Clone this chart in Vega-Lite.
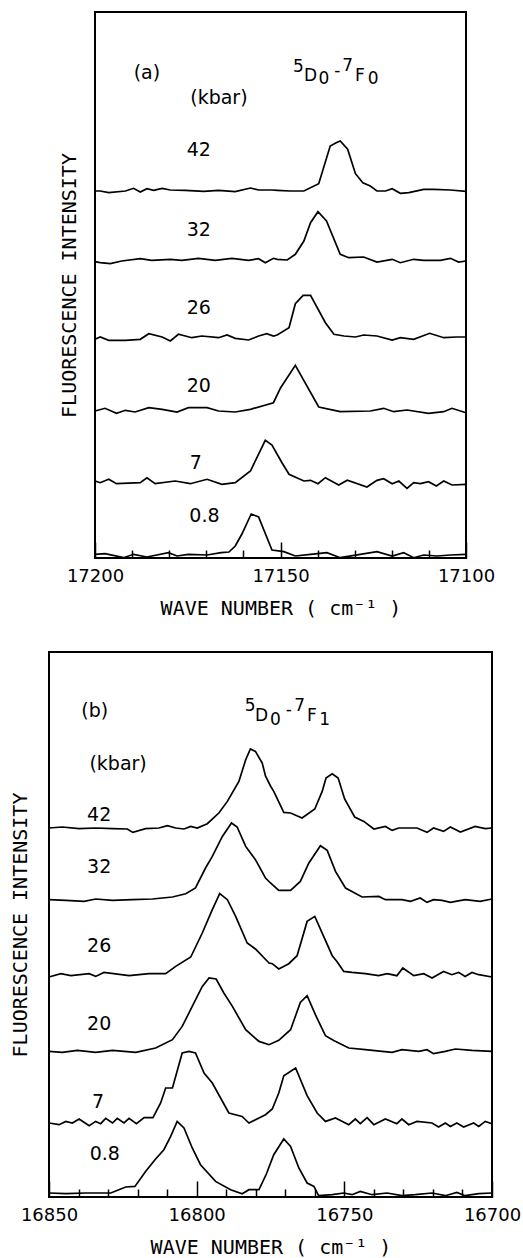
{
"$schema": "https://vega.github.io/schema/vega-lite/v6.json",
"padding": {"left": 0, "top": 11, "right": 0, "bottom": 0},
"background": "white",
"config": {
  "view": {"stroke": "black", "strokeWidth": 2},
  "axis": {"grid": false, "domain": false, "labelColor": "black", "titleColor": "black", "tickColor": "black", "tickWidth": 1.5, "labelFont": "DejaVu Sans", "labelFontSize": 18, "titleFont": "DejaVu Sans Mono", "titleFontSize": 20, "titleFontWeight": "normal"}
},
"datasets": {
"a": [
{"p":"42","w":17200,"v":367},{"p":"42","w":17198.6,"v":367},{"p":"42","w":17196.3,"v":365.3},{"p":"42","w":17191.8,"v":367},{"p":"42","w":17189.6,"v":369.7},{"p":"42","w":17187.8,"v":366},{"p":"42","w":17186,"v":369.3},{"p":"42","w":17184.2,"v":367.7},{"p":"42","w":17181.9,"v":369.7},{"p":"42","w":17179.7,"v":368},{"p":"42","w":17175.7,"v":367.7},{"p":"42","w":17170.7,"v":366.7},{"p":"42","w":17166.7,"v":367.7},{"p":"42","w":17162.2,"v":366.3},{"p":"42","w":17158.1,"v":370},{"p":"42","w":17155.9,"v":368},{"p":"42","w":17152.3,"v":368},{"p":"42","w":17150.9,"v":367.7},{"p":"42","w":17147.4,"v":367},{"p":"42","w":17143.7,"v":367},{"p":"42","w":17139.7,"v":374.3},{"p":"42","w":17136.6,"v":412},{"p":"42","w":17135,"v":415.3},{"p":"42","w":17133.9,"v":417},{"p":"42","w":17131.9,"v":408.7},{"p":"42","w":17129.8,"v":384.3},{"p":"42","w":17127.8,"v":375.3},{"p":"42","w":17125.8,"v":372},{"p":"42","w":17124,"v":367},{"p":"42","w":17121.7,"v":367},{"p":"42","w":17119.9,"v":369.3},{"p":"42","w":17117.7,"v":364.7},{"p":"42","w":17115.4,"v":365.3},{"p":"42","w":17111.4,"v":368.7},{"p":"42","w":17108.7,"v":368.7},{"p":"42","w":17104.2,"v":368},{"p":"42","w":17100,"v":366.7},
{"p":"32","w":17200,"v":296.3},{"p":"32","w":17198.6,"v":295.3},{"p":"32","w":17195.9,"v":294.3},{"p":"32","w":17192.8,"v":297},{"p":"32","w":17187.8,"v":299.3},{"p":"32","w":17184.7,"v":297.7},{"p":"32","w":17179.7,"v":298.7},{"p":"32","w":17176.6,"v":297.7},{"p":"32","w":17172.1,"v":299.7},{"p":"32","w":17167.6,"v":297.7},{"p":"32","w":17163.1,"v":299.7},{"p":"32","w":17158.6,"v":297.7},{"p":"32","w":17155.9,"v":299.3},{"p":"32","w":17154.1,"v":295.3},{"p":"32","w":17151.9,"v":299.7},{"p":"32","w":17150.9,"v":298.7},{"p":"32","w":17148.2,"v":298},{"p":"32","w":17146,"v":303.7},{"p":"32","w":17143.7,"v":317},{"p":"32","w":17141.9,"v":335.3},{"p":"32","w":17139.9,"v":346.3},{"p":"32","w":17137.6,"v":337},{"p":"32","w":17133.9,"v":303.7},{"p":"32","w":17131.6,"v":300.3},{"p":"32","w":17127.6,"v":301},{"p":"32","w":17124,"v":296},{"p":"32","w":17119.9,"v":298.7},{"p":"32","w":17117.7,"v":295.3},{"p":"32","w":17114.1,"v":298.7},{"p":"32","w":17111.4,"v":297.7},{"p":"32","w":17106.9,"v":297.7},{"p":"32","w":17104.2,"v":299.7},{"p":"32","w":17102,"v":296},{"p":"32","w":17100,"v":297},
{"p":"26","w":17200,"v":218.7},{"p":"26","w":17198.6,"v":221},{"p":"26","w":17196.3,"v":217.7},{"p":"26","w":17191.8,"v":217.7},{"p":"26","w":17187.8,"v":218.7},{"p":"26","w":17185.5,"v":224.3},{"p":"26","w":17181.9,"v":221},{"p":"26","w":17179.7,"v":217},{"p":"26","w":17177.5,"v":223.7},{"p":"26","w":17173.9,"v":220.3},{"p":"26","w":17171.2,"v":222},{"p":"26","w":17166.7,"v":220.3},{"p":"26","w":17164.4,"v":223},{"p":"26","w":17162.2,"v":219.7},{"p":"26","w":17158.6,"v":218},{"p":"26","w":17155.9,"v":222},{"p":"26","w":17153.7,"v":224.3},{"p":"26","w":17151.9,"v":222},{"p":"26","w":17150.9,"v":223},{"p":"26","w":17147.7,"v":230.3},{"p":"26","w":17146,"v":254.3},{"p":"26","w":17143.9,"v":262.7},{"p":"26","w":17141.9,"v":262.7},{"p":"26","w":17137.9,"v":235.3},{"p":"26","w":17135.6,"v":223.7},{"p":"26","w":17132.9,"v":222},{"p":"26","w":17129.8,"v":221},{"p":"26","w":17127.6,"v":223},{"p":"26","w":17124,"v":222},{"p":"26","w":17119.9,"v":218},{"p":"26","w":17117.7,"v":220.3},{"p":"26","w":17114.1,"v":218.7},{"p":"26","w":17109.8,"v":224.7},{"p":"26","w":17106,"v":220.3},{"p":"26","w":17102.4,"v":221},{"p":"26","w":17100,"v":221},
{"p":"20","w":17200,"v":147},{"p":"20","w":17197.3,"v":149.7},{"p":"20","w":17194.2,"v":144.7},{"p":"20","w":17191.8,"v":147.7},{"p":"20","w":17189.2,"v":146},{"p":"20","w":17185.5,"v":150.3},{"p":"20","w":17181.9,"v":148.7},{"p":"20","w":17177.9,"v":146},{"p":"20","w":17174.8,"v":150.3},{"p":"20","w":17169.8,"v":150.3},{"p":"20","w":17166.7,"v":147},{"p":"20","w":17162.2,"v":146},{"p":"20","w":17158.1,"v":148.7},{"p":"20","w":17151.9,"v":155.3},{"p":"20","w":17150,"v":170},{"p":"20","w":17146,"v":192.7},{"p":"20","w":17139.7,"v":151},{"p":"20","w":17133.9,"v":146.3},{"p":"20","w":17125.8,"v":147},{"p":"20","w":17122.2,"v":149.7},{"p":"20","w":17119.5,"v":146.3},{"p":"20","w":17115.9,"v":148},{"p":"20","w":17110.1,"v":144.7},{"p":"20","w":17106,"v":146.3},{"p":"20","w":17103.8,"v":149.7},{"p":"20","w":17100,"v":145.3},
{"p":"7","w":17200,"v":77},{"p":"7","w":17198.6,"v":75.3},{"p":"7","w":17196.3,"v":78.7},{"p":"7","w":17194.2,"v":74.3},{"p":"7","w":17187.8,"v":75.3},{"p":"7","w":17186,"v":80.3},{"p":"7","w":17183.8,"v":74.3},{"p":"7","w":17178.4,"v":77},{"p":"7","w":17174.3,"v":74.3},{"p":"7","w":17169.8,"v":78.7},{"p":"7","w":17165.8,"v":73.7},{"p":"7","w":17162.2,"v":75.3},{"p":"7","w":17158.1,"v":87},{"p":"7","w":17154.1,"v":117.7},{"p":"7","w":17152.3,"v":113},{"p":"7","w":17149.6,"v":95.3},{"p":"7","w":17147.7,"v":83.7},{"p":"7","w":17143.7,"v":77},{"p":"7","w":17141.9,"v":77.7},{"p":"7","w":17139.9,"v":74.3},{"p":"7","w":17137.9,"v":80.3},{"p":"7","w":17134.3,"v":73},{"p":"7","w":17132,"v":77.7},{"p":"7","w":17126.7,"v":71},{"p":"7","w":17124,"v":77.7},{"p":"7","w":17122.2,"v":79.3},{"p":"7","w":17119.9,"v":74.3},{"p":"7","w":17118.1,"v":77},{"p":"7","w":17115.9,"v":69.7},{"p":"7","w":17114.1,"v":75.3},{"p":"7","w":17112.3,"v":74.3},{"p":"7","w":17110.1,"v":76.3},{"p":"7","w":17108,"v":72},{"p":"7","w":17106,"v":77},{"p":"7","w":17103.8,"v":73},{"p":"7","w":17100,"v":73.7},
{"p":"0.8","w":17200,"v":3.7},{"p":"0.8","w":17197.3,"v":4.3},{"p":"0.8","w":17192.3,"v":0.3},{"p":"0.8","w":17189.6,"v":3.7},{"p":"0.8","w":17186,"v":1},{"p":"0.8","w":17180.2,"v":5.3},{"p":"0.8","w":17177.9,"v":2},{"p":"0.8","w":17174.8,"v":3.7},{"p":"0.8","w":17169.8,"v":3},{"p":"0.8","w":17166,"v":5.3},{"p":"0.8","w":17163.9,"v":6},{"p":"0.8","w":17162.2,"v":12},{"p":"0.8","w":17160.4,"v":24},{"p":"0.8","w":17157.9,"v":44},{"p":"0.8","w":17155.9,"v":41},{"p":"0.8","w":17152.3,"v":8},{"p":"0.8","w":17149.1,"v":6.3},{"p":"0.8","w":17146,"v":2},{"p":"0.8","w":17141.9,"v":3.7},{"p":"0.8","w":17137.5,"v":5.3},{"p":"0.8","w":17133.9,"v":0.3},{"p":"0.8","w":17128.5,"v":3.7},{"p":"0.8","w":17124,"v":6.3},{"p":"0.8","w":17119.9,"v":2},{"p":"0.8","w":17116.8,"v":5.3},{"p":"0.8","w":17114.1,"v":0.3},{"p":"0.8","w":17111.4,"v":3},{"p":"0.8","w":17107.8,"v":2},{"p":"0.8","w":17104.2,"v":3},{"p":"0.8","w":17100,"v":3.7}
],
"b": [
{"p":"42","w":16850,"v":369},{"p":"42","w":16845.5,"v":370},{"p":"42","w":16839.8,"v":368.3},{"p":"42","w":16834.2,"v":369},{"p":"42","w":16828.5,"v":368.3},{"p":"42","w":16823.5,"v":368},{"p":"42","w":16821.6,"v":364.6},{"p":"42","w":16817.3,"v":368.3},{"p":"42","w":16812.8,"v":369},{"p":"42","w":16809.9,"v":371.3},{"p":"42","w":16807.1,"v":369},{"p":"42","w":16804.3,"v":368},{"p":"42","w":16802,"v":370.6},{"p":"42","w":16799.8,"v":369},{"p":"42","w":16796.4,"v":373.3},{"p":"42","w":16792.5,"v":384},{"p":"42","w":16789.6,"v":395.6},{"p":"42","w":16785.7,"v":415.6},{"p":"42","w":16783.4,"v":437.3},{"p":"42","w":16781.8,"v":448},{"p":"42","w":16780.1,"v":445.6},{"p":"42","w":16777.8,"v":434},{"p":"42","w":16776.7,"v":421},{"p":"42","w":16775,"v":411},{"p":"42","w":16773.9,"v":405.6},{"p":"42","w":16770.5,"v":384.6},{"p":"42","w":16768.2,"v":384},{"p":"42","w":16764.3,"v":379},{"p":"42","w":16760,"v":388},{"p":"42","w":16757.5,"v":405.6},{"p":"42","w":16756.2,"v":419},{"p":"42","w":16754.1,"v":423.3},{"p":"42","w":16752.1,"v":419},{"p":"42","w":16749.9,"v":398},{"p":"42","w":16746.5,"v":380},{"p":"42","w":16743.4,"v":375.6},{"p":"42","w":16740,"v":368},{"p":"42","w":16736.1,"v":370.6},{"p":"42","w":16733.8,"v":366.6},{"p":"42","w":16731.6,"v":369},{"p":"42","w":16725.4,"v":369},{"p":"42","w":16722,"v":364.6},{"p":"42","w":16719.8,"v":369},{"p":"42","w":16716.4,"v":365.6},{"p":"42","w":16714.1,"v":370},{"p":"42","w":16710.7,"v":365},{"p":"42","w":16705.7,"v":370.6},{"p":"42","w":16702.3,"v":368.3},{"p":"42","w":16700,"v":369},
{"p":"32","w":16850,"v":297.3},{"p":"32","w":16844.3,"v":296.6},{"p":"32","w":16838.1,"v":295.6},{"p":"32","w":16834.2,"v":298},{"p":"32","w":16828.5,"v":296.6},{"p":"32","w":16821.8,"v":297.3},{"p":"32","w":16815,"v":298},{"p":"32","w":16808.2,"v":300},{"p":"32","w":16803.7,"v":303.3},{"p":"32","w":16800.4,"v":309},{"p":"32","w":16797,"v":329},{"p":"32","w":16794.7,"v":340.6},{"p":"32","w":16791.3,"v":360.6},{"p":"32","w":16788.2,"v":374},{"p":"32","w":16786.3,"v":370},{"p":"32","w":16783.4,"v":350.6},{"p":"32","w":16780.1,"v":337.3},{"p":"32","w":16776.7,"v":319},{"p":"32","w":16775,"v":314},{"p":"32","w":16772.2,"v":306.6},{"p":"32","w":16768.2,"v":306.6},{"p":"32","w":16764.9,"v":315.6},{"p":"32","w":16762,"v":334},{"p":"32","w":16758.1,"v":351.3},{"p":"32","w":16755.8,"v":346.6},{"p":"32","w":16753,"v":325.6},{"p":"32","w":16749.6,"v":309},{"p":"32","w":16744,"v":300},{"p":"32","w":16738.3,"v":300.6},{"p":"32","w":16736.1,"v":297.3},{"p":"32","w":16730.5,"v":297.3},{"p":"32","w":16727.6,"v":295.6},{"p":"32","w":16724.3,"v":299},{"p":"32","w":16722,"v":294.6},{"p":"32","w":16719.8,"v":297.3},{"p":"32","w":16716.9,"v":296.6},{"p":"32","w":16714.1,"v":294.6},{"p":"32","w":16709.1,"v":297.3},{"p":"32","w":16704,"v":295.6},{"p":"32","w":16700,"v":298},
{"p":"26","w":16850,"v":220},{"p":"26","w":16846,"v":223.3},{"p":"26","w":16842.6,"v":221.3},{"p":"26","w":16836.4,"v":223.3},{"p":"26","w":16834.2,"v":220.6},{"p":"26","w":16831.4,"v":224.6},{"p":"26","w":16822.9,"v":221.3},{"p":"26","w":16816.1,"v":223.3},{"p":"26","w":16810.5,"v":223.3},{"p":"26","w":16807.1,"v":230.6},{"p":"26","w":16802,"v":240},{"p":"26","w":16798.1,"v":264},{"p":"26","w":16794.7,"v":287.3},{"p":"26","w":16792.2,"v":303.3},{"p":"26","w":16789.6,"v":297.3},{"p":"26","w":16786.8,"v":280.6},{"p":"26","w":16782.9,"v":254},{"p":"26","w":16780.1,"v":248},{"p":"26","w":16775.5,"v":234},{"p":"26","w":16774.4,"v":233.3},{"p":"26","w":16772.2,"v":228},{"p":"26","w":16768.8,"v":233.3},{"p":"26","w":16766,"v":241.3},{"p":"26","w":16762.6,"v":275.6},{"p":"26","w":16760,"v":280.6},{"p":"26","w":16757,"v":260.6},{"p":"26","w":16754.1,"v":241.3},{"p":"26","w":16752.5,"v":235.6},{"p":"26","w":16750.2,"v":225.6},{"p":"26","w":16747.4,"v":224.6},{"p":"26","w":16742.9,"v":223.3},{"p":"26","w":16738.4,"v":221.3},{"p":"26","w":16735.5,"v":223.3},{"p":"26","w":16732.2,"v":221.3},{"p":"26","w":16730.2,"v":229},{"p":"26","w":16726.5,"v":221.3},{"p":"26","w":16723.1,"v":223.3},{"p":"26","w":16720.3,"v":219},{"p":"26","w":16716.4,"v":225.6},{"p":"26","w":16713.6,"v":222.3},{"p":"26","w":16711.3,"v":224.6},{"p":"26","w":16709.1,"v":220.6},{"p":"26","w":16706.8,"v":224.6},{"p":"26","w":16704.5,"v":222.3},{"p":"26","w":16700,"v":220},
{"p":"20","w":16850,"v":145.6},{"p":"20","w":16845.5,"v":144.6},{"p":"20","w":16840.4,"v":146.6},{"p":"20","w":16834.2,"v":144.6},{"p":"20","w":16828.5,"v":146.6},{"p":"20","w":16820.6,"v":144.6},{"p":"20","w":16813.9,"v":149},{"p":"20","w":16808.2,"v":157.3},{"p":"20","w":16804.9,"v":170.6},{"p":"20","w":16801.5,"v":190.6},{"p":"20","w":16798.1,"v":210.6},{"p":"20","w":16795.8,"v":219},{"p":"20","w":16793.4,"v":218},{"p":"20","w":16790.8,"v":204},{"p":"20","w":16787.9,"v":190.6},{"p":"20","w":16783.4,"v":167.3},{"p":"20","w":16778.9,"v":155.6},{"p":"20","w":16775.5,"v":152.3},{"p":"20","w":16772.2,"v":156.6},{"p":"20","w":16768.2,"v":167.3},{"p":"20","w":16764.9,"v":194.6},{"p":"20","w":16762.6,"v":201.3},{"p":"20","w":16759.8,"v":182.3},{"p":"20","w":16756.4,"v":161.3},{"p":"20","w":16753.6,"v":156.6},{"p":"20","w":16748.5,"v":149},{"p":"20","w":16742.9,"v":147.3},{"p":"20","w":16737.2,"v":145.6},{"p":"20","w":16733.8,"v":144.6},{"p":"20","w":16730.5,"v":147.3},{"p":"20","w":16724.8,"v":145.6},{"p":"20","w":16722,"v":147.3},{"p":"20","w":16719.8,"v":143.3},{"p":"20","w":16715.8,"v":145.6},{"p":"20","w":16712.4,"v":148},{"p":"20","w":16706.8,"v":146.6},{"p":"20","w":16700,"v":145.6},
{"p":"7","w":16850,"v":74},{"p":"7","w":16846.6,"v":72.3},{"p":"7","w":16844.3,"v":75.6},{"p":"7","w":16842.1,"v":74},{"p":"7","w":16839.8,"v":78},{"p":"7","w":16836.4,"v":71.3},{"p":"7","w":16834.2,"v":75.6},{"p":"7","w":16832.5,"v":73.3},{"p":"7","w":16830.8,"v":78.6},{"p":"7","w":16828.5,"v":74},{"p":"7","w":16826.9,"v":78.6},{"p":"7","w":16824.6,"v":74},{"p":"7","w":16822.9,"v":78.6},{"p":"7","w":16820.4,"v":73.3},{"p":"7","w":16817.8,"v":79.3},{"p":"7","w":16814.8,"v":79.3},{"p":"7","w":16812.2,"v":94},{"p":"7","w":16810.5,"v":109},{"p":"7","w":16808.2,"v":109},{"p":"7","w":16804.9,"v":144},{"p":"7","w":16802.6,"v":145.6},{"p":"7","w":16800.4,"v":144},{"p":"7","w":16797.5,"v":124},{"p":"7","w":16794.7,"v":114},{"p":"7","w":16789.1,"v":84},{"p":"7","w":16784.6,"v":80.6},{"p":"7","w":16782.3,"v":74},{"p":"7","w":16778.9,"v":79},{"p":"7","w":16776.7,"v":82.3},{"p":"7","w":16774.4,"v":88},{"p":"7","w":16772.2,"v":104},{"p":"7","w":16770.5,"v":121.3},{"p":"7","w":16766.5,"v":129},{"p":"7","w":16762.6,"v":101.3},{"p":"7","w":16759.2,"v":84},{"p":"7","w":16756.4,"v":75.6},{"p":"7","w":16753,"v":79},{"p":"7","w":16748.5,"v":72.3},{"p":"7","w":16746.3,"v":78},{"p":"7","w":16744.6,"v":73.3},{"p":"7","w":16742.3,"v":79.3},{"p":"7","w":16740,"v":72.3},{"p":"7","w":16736.1,"v":78},{"p":"7","w":16732.2,"v":73.3},{"p":"7","w":16730.5,"v":78},{"p":"7","w":16728.2,"v":72.3},{"p":"7","w":16725.4,"v":75.6},{"p":"7","w":16720.3,"v":74},{"p":"7","w":16718.1,"v":70},{"p":"7","w":16715.8,"v":74},{"p":"7","w":16714.1,"v":70.6},{"p":"7","w":16711.9,"v":74},{"p":"7","w":16709.6,"v":70},{"p":"7","w":16706.2,"v":74},{"p":"7","w":16704.5,"v":70.6},{"p":"7","w":16702.3,"v":75.6},{"p":"7","w":16700,"v":73.3},
{"p":"0.8","w":16850,"v":4},{"p":"0.8","w":16844.3,"v":3.3},{"p":"0.8","w":16837.6,"v":4},{"p":"0.8","w":16829.1,"v":4},{"p":"0.8","w":16824,"v":10},{"p":"0.8","w":16820.9,"v":10.6},{"p":"0.8","w":16817.3,"v":25.6},{"p":"0.8","w":16813.9,"v":38},{"p":"0.8","w":16811.1,"v":47.3},{"p":"0.8","w":16808.8,"v":60.6},{"p":"0.8","w":16806.6,"v":75.6},{"p":"0.8","w":16804.3,"v":69},{"p":"0.8","w":16801.5,"v":49},{"p":"0.8","w":16798.7,"v":32.3},{"p":"0.8","w":16793.6,"v":15.6},{"p":"0.8","w":16788.5,"v":7.3},{"p":"0.8","w":16784.6,"v":3.3},{"p":"0.8","w":16782.3,"v":7.3},{"p":"0.8","w":16778.9,"v":7.3},{"p":"0.8","w":16776.4,"v":23},{"p":"0.8","w":16773.9,"v":42.3},{"p":"0.8","w":16770.5,"v":58},{"p":"0.8","w":16768.2,"v":50.6},{"p":"0.8","w":16765.4,"v":29},{"p":"0.8","w":16762.6,"v":14},{"p":"0.8","w":16760.3,"v":10.6},{"p":"0.8","w":16758.7,"v":1.3},{"p":"0.8","w":16754.1,"v":2.3},{"p":"0.8","w":16750.2,"v":4},{"p":"0.8","w":16747.4,"v":2.3},{"p":"0.8","w":16744.6,"v":5.6},{"p":"0.8","w":16740.6,"v":2.3},{"p":"0.8","w":16735.5,"v":4},{"p":"0.8","w":16730.5,"v":1.3},{"p":"0.8","w":16726,"v":2.3},{"p":"0.8","w":16720.3,"v":4},{"p":"0.8","w":16715.8,"v":1.3},{"p":"0.8","w":16711.9,"v":4.6},{"p":"0.8","w":16709.1,"v":1.3},{"p":"0.8","w":16704.5,"v":3.3},{"p":"0.8","w":16700,"v":4}
],
"la": [
{"t":"(a)","w":17186,"v":478.7},{"t":"(kbar)","w":17166.6,"v":454},{"t":"42","w":17172,"v":402},{"t":"32","w":17172,"v":322},{"t":"26","w":17172,"v":244},{"t":"20","w":17172,"v":166},{"t":"7","w":17172.8,"v":89},{"t":"0.8","w":17170.5,"v":36}
],
"ta": [
{"t":"5","w":17145.2,"v":486.3},{"t":"D","w":17141.9,"v":477},{"t":"0","w":17138.3,"v":473.7},{"t":"-","w":17134.7,"v":481.7},{"t":"7","w":17131.9,"v":487},{"t":"F","w":17128.6,"v":477},{"t":"0","w":17125,"v":473.7}
],
"lb": [
{"t":"(b)","w":16834.5,"v":479.6},{"t":"(kbar)","w":16826.6,"v":427},{"t":"42","w":16833,"v":375.6},{"t":"32","w":16833,"v":324},{"t":"26","w":16833,"v":244.6},{"t":"20","w":16833,"v":166.6},{"t":"7","w":16833.4,"v":89},{"t":"0.8","w":16831.1,"v":37.3}
],
"tb": [
{"t":"5","w":16781.9,"v":485.6},{"t":"D","w":16778,"v":475.6},{"t":"0","w":16773.3,"v":472.3},{"t":"-","w":16768.8,"v":481.7},{"t":"7","w":16765.1,"v":485.6},{"t":"F","w":16761,"v":475.6},{"t":"1","w":16756.7,"v":472.3}
]
},
"spacing": 32,
"vconcat": [
{
 "spacing": 0,
 "hconcat": [
  {"width": 1, "height": 1, "data": {"values": []}, "mark": "point", "view": {"stroke": null}},
  {
  "width": 371, "height": 546,
  "layer": [
    {"data": {"name": "a"},
     "mark": {"type": "line", "color": "black", "strokeWidth": 1.7},
     "encoding": {
       "x": {"field": "w", "type": "quantitative", "scale": {"domain": [17100, 17200], "reverse": true, "nice": false, "zero": false},
             "axis": {"orient": "bottom", "values": [17200, 17150, 17100], "format": "d", "tickSize": -16, "labelPadding": 25, "labelFlush": false, "labelOverlap": false, "title": "WAVE NUMBER ( cm⁻¹ )", "titleY": 40}},
       "y": {"field": "v", "type": "quantitative", "scale": {"domain": [0, 546], "nice": false, "zero": false},
             "axis": {"title": "FLUORESCENCE INTENSITY", "labels": false, "ticks": false, "domain": false, "minExtent": 44, "maxExtent": 44, "titleX": -16}},
       "detail": {"field": "p"}
     }},
    {"data": {"name": "la"},
     "mark": {"type": "text", "align": "center", "baseline": "alphabetic", "font": "DejaVu Sans", "fontSize": 19, "color": "black"},
     "encoding": {
       "x": {"field": "w", "type": "quantitative", "axis": {"orient": "bottom", "values": [17190, 17180, 17170, 17160, 17140, 17130, 17120, 17110], "tickSize": -8, "labels": false, "title": null}},
       "y": {"field": "v", "type": "quantitative", "axis": null},
       "text": {"field": "t"}
     }},
    {"data": {"name": "ta"},
     "mark": {"type": "text", "align": "center", "baseline": "alphabetic", "font": "DejaVu Sans", "fontSize": 17, "color": "black"},
     "encoding": {
       "x": {"field": "w", "type": "quantitative", "axis": null},
       "y": {"field": "v", "type": "quantitative", "axis": null},
       "text": {"field": "t"}
     }}
  ],
  "resolve": {"axis": {"x": "independent", "y": "independent"}}
  }
 ]
},
{
  "width": 443, "height": 545,
  "layer": [
    {"data": {"name": "b"},
     "mark": {"type": "line", "color": "black", "strokeWidth": 1.7},
     "encoding": {
       "x": {"field": "w", "type": "quantitative", "scale": {"domain": [16700, 16850], "reverse": true, "nice": false, "zero": false},
             "axis": {"orient": "bottom", "values": [16850, 16800, 16750, 16700], "format": "d", "tickSize": -16, "labelPadding": 25, "labelFlush": false, "labelOverlap": false, "title": "WAVE NUMBER ( cm⁻¹ )", "titleY": 40}},
       "y": {"field": "v", "type": "quantitative", "scale": {"domain": [0, 545], "nice": false, "zero": false},
             "axis": {"title": "FLUORESCENCE INTENSITY", "labels": false, "ticks": false, "domain": false, "minExtent": 48, "maxExtent": 48, "titleX": -19}},
       "detail": {"field": "p"}
     }},
    {"data": {"name": "lb"},
     "mark": {"type": "text", "align": "center", "baseline": "alphabetic", "font": "DejaVu Sans", "fontSize": 19, "color": "black"},
     "encoding": {
       "x": {"field": "w", "type": "quantitative", "axis": {"orient": "bottom", "values": [16840, 16830, 16820, 16810, 16790, 16780, 16770, 16760, 16740, 16730, 16720, 16710], "tickSize": -8, "labels": false, "title": null}},
       "y": {"field": "v", "type": "quantitative", "axis": null},
       "text": {"field": "t"}
     }},
    {"data": {"name": "tb"},
     "mark": {"type": "text", "align": "center", "baseline": "alphabetic", "font": "DejaVu Sans", "fontSize": 17, "color": "black"},
     "encoding": {
       "x": {"field": "w", "type": "quantitative", "axis": null},
       "y": {"field": "v", "type": "quantitative", "axis": null},
       "text": {"field": "t"}
     }}
  ],
  "resolve": {"axis": {"x": "independent", "y": "independent"}}
}
]
}
